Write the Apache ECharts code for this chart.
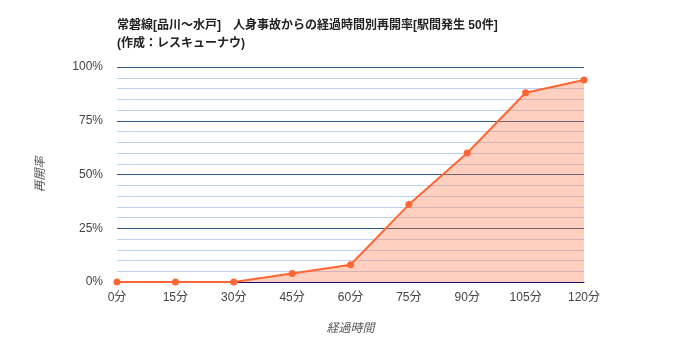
<!DOCTYPE html>
<html><head><meta charset="utf-8">
<script src="https://cdn.jsdelivr.net/npm/echarts@6/dist/echarts.min.js"></script>
<style>html,body{margin:0;padding:0;background:#fff}#c{width:700px;height:350px}</style>
</head><body><div id="c"></div>
<script>
const categories = ['0分','15分','30分','45分','60分','75分','90分','105分','120分'];
const rates = [0, 0, 0, 4, 8, 36, 60, 88, 94];
const titleLines = ['常磐線[品川～水戸]　人身事故からの経過時間別再開率[駅間発生 50件]', '(作成：レスキューナウ)'];
const xName = '経過時間';
const yName = '再開率';

const font = 'Arial, "Liberation Sans", "Noto Sans CJK JP", sans-serif';
const chart = echarts.init(document.getElementById('c'), null, {renderer: 'canvas'});
chart.setOption({
  animation: false,
  textStyle: {fontFamily: font},
  title: {
    text: titleLines.join('\n'),
    left: 112, top: 12,
    textStyle: {fontSize: 12, fontWeight: 'bold', color: '#222', lineHeight: 18, fontFamily: font}
  },
  grid: {left: 117, right: 116, top: 67, bottom: 68},
  xAxis: {
    type: 'category', data: categories, boundaryGap: false,
    name: xName, nameLocation: 'middle', nameGap: 41,
    nameTextStyle: {fontStyle: 'italic', color: '#555', fontSize: 12},
    axisLine: {lineStyle: {color: '#1a0a70', width: 1}},
    axisTick: {show: false},
    axisLabel: {color: '#444', fontSize: 12, margin: 10},
    splitLine: {show: false}
  },
  yAxis: {
    type: 'value', min: 0, max: 100, interval: 25,
    name: yName, nameLocation: 'middle', nameGap: 70,
    nameTextStyle: {fontStyle: 'italic', color: '#555', fontSize: 12},
    axisLine: {show: false}, axisTick: {show: false},
    axisLabel: {color: '#444', fontSize: 12, formatter: '{value}%', margin: 14},
    splitLine: {lineStyle: {color: '#2d5a80', width: 1}},
    minorTick: {show: false, splitNumber: 5},
    minorSplitLine: {show: true, lineStyle: {color: '#bcd4f4', width: 1}}
  },
  series: [{
    type: 'line', data: rates,
    symbol: 'circle', symbolSize: 7,
    itemStyle: {color: '#ff6633'},
    lineStyle: {color: '#ff6633', width: 2},
    areaStyle: {color: 'rgba(255,110,60,0.32)', opacity: 1}
  }]
});
</script></body></html>
